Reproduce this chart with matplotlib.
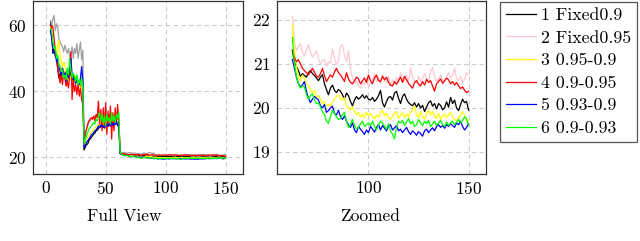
import matplotlib
matplotlib.use("Agg")
import matplotlib.pyplot as plt
import numpy as np

plt.rcParams['font.family'] = 'cmr10'
plt.rcParams['axes.formatter.use_mathtext'] = True
plt.rcParams['font.size'] = 12.5

epochs = np.arange(4, 151)

labels = ["1 Fixed0.9", "2 Fixed0.95", "3 0.95-0.9", "4 0.9-0.95", "5 0.93-0.9", "6 0.9-0.93"]

# phase 1: epochs 4-31, phase 2: 32-61, phase 3: 62-150
s1 = ([61.0, 57, 51.5, 53, 50.5, 50, 47, 44, 45.5, 44, 47, 45, 44.5, 46, 43, 45, 44, 46, 43.5, 45, 44, 42.5, 44, 42, 43, 41.5, 42, 40.5]
      + [22.2, 23, 23.8, 24, 25, 25.5, 26, 26.5, 27, 27.3, 28, 28.2, 28.8, 29, 29.2, 29.5, 29, 29.6, 29.3, 29.8, 29.5, 30, 29.5, 30.2, 29.8, 30.3, 30, 30.5, 29.8, 30.5]
      + [21.30, 21.05, 20.95, 20.85, 20.72, 20.78, 20.74, 20.70, 20.80, 20.85,
         20.78, 20.74, 20.68, 20.62, 20.70, 20.76, 20.55, 20.42, 20.30, 20.45,
         20.52, 20.40, 20.35, 20.42, 20.38, 20.30, 20.20, 20.34, 20.28, 20.15,
         20.05, 20.18, 20.26, 20.20, 20.24, 20.30, 20.22, 20.28, 20.20, 20.18,
         20.24, 20.15, 20.20, 20.28, 20.40, 20.12, 20.02, 20.15, 20.24, 20.26,
         20.18, 20.34, 20.38, 20.22, 20.10, 20.26, 20.32, 20.20, 20.12, 20.08,
         20.05, 20.12, 20.02, 20.10, 20.00, 20.06, 19.92, 20.02, 20.12, 20.16,
         20.04, 20.10, 19.98, 20.10, 20.06, 19.96, 20.00, 20.14, 20.02, 20.24,
         20.10, 20.18, 20.00, 19.94, 20.08, 20.20, 20.12, 20.15, 19.95])

s2 = ([61.5, 60, 62, 63, 58.5, 60.5, 59.5, 56, 55, 54, 53.5, 52, 54, 52.5, 51.5, 53, 50.5, 51, 53.5, 50, 53, 51.5, 54.5, 50, 52.5, 55, 49.5, 52.5]
      + [24, 27.5, 28.5, 29.5, 30.5, 31, 31.5, 32, 32.3, 32.5, 32, 32.8, 32.5, 33, 32.6, 32.2, 33, 32.5, 31.5, 32.8, 32, 33, 32.4, 31.8, 32.6, 33, 32, 32.5, 31.5, 32]
      + [22.08, 21.50, 21.30, 21.40, 21.46, 21.25, 21.18, 21.32, 21.44, 21.28,
         21.15, 21.22, 21.30, 21.12, 21.00, 21.08, 21.10, 20.95, 21.05, 21.02,
         21.34, 21.12, 21.00, 21.05, 21.40, 21.44, 21.20, 21.05, 21.30, 20.90,
         20.70, 20.55, 20.62, 20.50, 20.45, 20.60, 20.52, 20.68, 20.48, 20.55,
         20.62, 20.78, 20.60, 20.70, 20.55, 20.75, 20.62, 20.58, 20.72, 20.50,
         20.64, 20.55, 20.70, 20.58, 20.80, 20.66, 20.62, 20.74, 20.60, 20.90,
         20.70, 20.62, 20.55, 20.72, 20.60, 20.68, 20.78, 20.66, 20.58, 20.82,
         20.92, 20.70, 20.60, 20.66, 20.75, 20.62, 20.58, 20.70, 20.80, 20.68,
         20.74, 20.90, 20.66, 20.62, 20.72, 20.58, 20.65, 20.80, 20.75])

s3 = ([59.5, 58, 53, 55, 52, 50, 54, 55.5, 51, 49, 47, 49, 48, 46, 44.5, 43, 45, 43.5, 42.5, 44, 43, 44.5, 44, 42, 41.5, 43, 40.5, 40]
      + [23.5, 24.5, 25.5, 26, 26.5, 27, 27.5, 28, 28.5, 29, 29.2, 29.5, 30, 29.5, 30.3, 29.8, 30.5, 29.5, 28.5, 30, 30.8, 29.8, 30.5, 31, 30.2, 31.5, 30.5, 31, 30.3, 31]
      + [21.90, 21.30, 20.95, 20.72, 20.60, 20.75, 20.68, 20.55, 20.50, 20.42,
         20.35, 20.40, 20.25, 20.28, 20.20, 20.10, 20.15, 20.04, 20.08, 20.02,
         20.12, 20.20, 20.26, 20.30, 20.22, 20.18, 20.24, 20.05, 20.00, 19.96,
         20.02, 19.92, 19.85, 19.90, 19.80, 19.86, 19.78, 19.90, 19.82, 19.88,
         19.80, 19.75, 19.84, 19.78, 19.90, 19.95, 19.82, 19.88, 19.78, 19.74,
         19.80, 19.88, 19.92, 19.76, 19.84, 19.90, 19.78, 19.86, 19.80, 19.90,
         19.96, 20.05, 19.85, 19.78, 19.92, 19.80, 19.74, 19.86, 19.95, 19.84,
         19.92, 19.80, 19.76, 19.88, 19.74, 19.82, 19.86, 19.78, 19.84, 19.90,
         19.80, 19.74, 19.70, 19.78, 19.84, 19.92, 19.82, 19.70, 19.72])

s4 = ([58, 60, 59.5, 56, 52, 50, 47, 45, 42.5, 45, 42, 46, 44, 41.5, 43, 41, 45, 52, 37.5, 44, 40, 42, 39, 42.5, 38.5, 41, 37.5, 36]
      + [24, 27, 28.5, 30, 31, 31.5, 32, 31.5, 32.5, 31, 33, 32, 37, 30, 34.5, 28, 35, 29, 36.5, 27, 34, 29.5, 35.5, 25.5, 33.5, 28, 35, 30, 36, 31]
      + [21.32, 21.15, 21.05, 21.10, 21.00, 20.90, 20.85, 20.80, 20.75, 20.82,
         20.90, 20.82, 20.72, 20.70, 20.78, 20.90, 20.74, 20.60, 20.68, 20.75,
         20.70, 20.82, 20.90, 20.80, 20.75, 20.68, 20.60, 20.80, 20.66, 20.58,
         20.55, 20.62, 20.70, 20.66, 20.55, 20.62, 20.68, 20.58, 20.75, 20.62,
         20.55, 20.68, 20.75, 20.62, 20.60, 20.72, 20.64, 20.70, 20.58, 20.52,
         20.50, 20.60, 20.54, 20.62, 20.70, 20.58, 20.72, 20.64, 20.56, 20.50,
         20.45, 20.58, 20.62, 20.54, 20.50, 20.60, 20.52, 20.65, 20.58, 20.62,
         20.50, 20.38, 20.55, 20.60, 20.66, 20.56, 20.62, 20.68, 20.64, 20.55,
         20.60, 20.52, 20.58, 20.50, 20.44, 20.48, 20.40, 20.35, 20.38])

s5 = ([58.5, 56, 53, 51.5, 52, 49, 50, 47.5, 46, 45, 47, 44, 45.5, 43, 46, 44, 47, 50, 45, 43.5, 44, 42.5, 44, 43, 42, 44, 47.5, 43]
      + [23, 23.5, 24.5, 25, 25.5, 26, 26.8, 27, 27.5, 28, 28.3, 28.8, 29.5, 29, 29.8, 29.3, 29.6, 28.8, 29.5, 30, 29.3, 30.2, 29.5, 30.5, 29.6, 30.3, 30, 31, 29.5, 30.5]
      + [21.10, 20.90, 20.70, 20.55, 20.48, 20.52, 20.60, 20.38, 20.22, 20.12,
         20.20, 20.26, 20.22, 20.18, 20.05, 20.00, 20.08, 19.90, 19.94, 20.00,
         20.04, 19.88, 19.84, 19.95, 19.80, 19.74, 19.82, 19.70, 19.62, 19.56,
         19.66, 19.50, 19.44, 19.58, 19.52, 19.46, 19.40, 19.50, 19.44, 19.58,
         19.52, 19.45, 19.56, 19.62, 19.50, 19.60, 19.54, 19.48, 19.58, 19.62,
         19.50, 19.55, 19.60, 19.48, 19.52, 19.44, 19.50, 19.56, 19.46, 19.40,
         19.48, 19.44, 19.38, 19.46, 19.42, 19.36, 19.48, 19.52, 19.44, 19.50,
         19.55, 19.48, 19.58, 19.62, 19.56, 19.60, 19.54, 19.62, 19.58, 19.64,
         19.60, 19.56, 19.66, 19.62, 19.70, 19.58, 19.50, 19.56, 19.65])

s6 = ([59, 58.5, 55, 53, 53.5, 50, 51, 48, 47.5, 46, 46.5, 44, 45, 43.5, 47, 45, 50, 46.5, 44, 45.5, 44.5, 43, 45, 42, 43.5, 42, 44, 41]
      + [24, 25.5, 26.5, 27.5, 28.5, 29, 29.5, 30, 30.5, 30, 31.5, 31, 32.5, 33.5, 31, 33, 30.5, 32.5, 29.5, 33, 31, 32, 30, 33.5, 31, 32.5, 30.5, 33, 32, 33.5]
      + [21.60, 21.00, 20.72, 20.55, 20.45, 20.50, 20.48, 20.30, 20.20, 20.28,
         20.32, 20.18, 20.10, 20.12, 20.02, 19.92, 19.85, 19.70, 19.65, 19.80,
         19.95, 19.88, 19.80, 19.74, 19.76, 19.85, 19.90, 19.70, 19.55, 19.62,
         19.74, 19.60, 19.52, 19.56, 19.64, 19.70, 19.58, 19.62, 19.66, 19.60,
         19.70, 19.58, 19.50, 19.62, 19.70, 19.66, 19.58, 19.52, 19.64, 19.48,
         19.40, 19.30, 19.55, 19.70, 19.66, 19.72, 19.60, 19.68, 19.76, 19.64,
         19.70, 19.58, 19.62, 19.74, 19.66, 19.60, 19.70, 19.64, 19.72, 19.58,
         19.64, 19.70, 19.60, 19.66, 19.72, 19.62, 19.58, 19.68, 19.60, 19.66,
         19.70, 19.62, 19.68, 19.74, 19.66, 19.72, 19.80, 19.76, 19.60])

series = [s1, s2, s3, s4, s5, s6]
colors_full = ["black", "#a0a0a0", "#ffff00", "#ff0000", "#0000ff", "#00ff00"]
colors_zoom = ["black", "#ffc8d0", "#ffff00", "#ff0000", "#0000ff", "#00ff00"]

fig = plt.figure(figsize=(6.4, 2.41), dpi=100)
ax1 = fig.add_axes([33/640, 1 - 174/241, 210/640, 173/241])
ax2 = fig.add_axes([277/640, 1 - 174/241, 209/640, 173/241])

zoom_start = 62
mask = epochs >= zoom_start
for s, cf, cz, lab in zip(series, colors_full, colors_zoom, labels):
    s = np.array(s)
    ax1.plot(epochs, s, color=cf, lw=0.9)
    ax2.plot(epochs[mask], s[mask], color=cz, lw=0.9, label=lab)

ax1.set_xlim(-10.6, 164.6)
ax1.set_ylim(14.9, 67.4)
ax1.set_xticks([0, 50, 100, 150])
ax1.set_yticks([20, 40, 60])
ax1.set_xlabel("Full View")
ax1.xaxis.set_label_coords(0.435, -0.2)

ax2.set_xlim(54.3, 158.7)
ax2.set_ylim(18.5, 22.43)
ax2.set_xticks([100, 150])
ax2.set_yticks([19, 20, 21, 22])
ax2.set_xlabel("Zoomed")
ax2.xaxis.set_label_coords(0.445, -0.2)

for ax in (ax1, ax2):
    ax.grid(True, color="#cccccc", linestyle=(0, (4, 3)), lw=0.8)
    ax.set_axisbelow(True)
    ax.tick_params(length=0, pad=4.5)
    for sp in ax.spines.values():
        sp.set_color("#333333")
        sp.set_linewidth(0.9)

leg = ax2.legend(loc="upper left", bbox_to_anchor=(500/640, 1 - 2/241),
                 bbox_transform=fig.transFigure, borderaxespad=0,
                 fancybox=False, edgecolor="#555555", framealpha=1,
                 fontsize=12.8, handlelength=1.7, handletextpad=0.3,
                 labelspacing=0.4, borderpad=0.32)
leg.get_frame().set_linewidth(0.9)

fig.savefig("out.png", dpi=100)
